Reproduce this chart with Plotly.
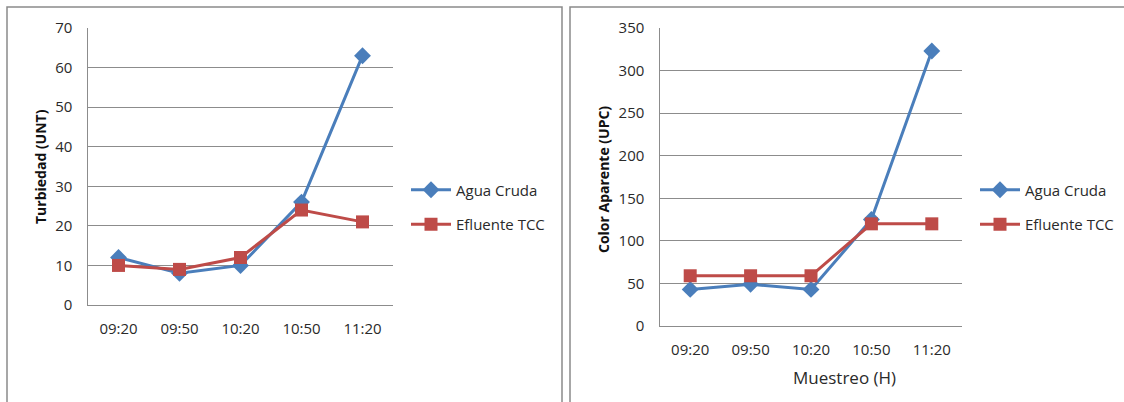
import plotly.graph_objects as go

categories = ["09:20", "09:50", "10:20", "10:50", "11:20"]
turb_agua = [12, 8, 10, 26, 63]
turb_eflu = [10, 9, 12, 24, 21]
color_agua = [43, 49, 43, 125, 323]
color_eflu = [59, 59, 59, 120, 120]
series_names = ["Agua Cruda", "Efluente TCC"]

W, H = 1124, 402
FONT = "Open Sans"
BLUE = "#4A7EBB"
RED = "#BE4B48"
GRID = "#8C8C8C"
TXT = "#2a2a2a"

def px(x):
    return x / W

def py(y):
    return 1 - y / H

fig = go.Figure()

def add_pair(agua, eflu, xa, ya, legend):
    fig.add_trace(go.Scatter(
        x=categories, y=agua, name=series_names[0], mode="lines+markers",
        line=dict(color=BLUE, width=3), marker=dict(symbol="diamond", size=13, color=BLUE),
        xaxis=xa, yaxis=ya, legend=legend, legendgroup=legend + "a"))
    fig.add_trace(go.Scatter(
        x=categories, y=eflu, name=series_names[1], mode="lines+markers",
        line=dict(color=RED, width=3), marker=dict(symbol="square", size=13, color=RED),
        xaxis=xa, yaxis=ya, legend=legend, legendgroup=legend + "b"))

add_pair(turb_agua, turb_eflu, "x", "y", "legend")
add_pair(color_agua, color_eflu, "x2", "y2", "legend2")

axis_common = dict(showline=True, linecolor=GRID, linewidth=1, ticks="", automargin=False,
                   tickfont=dict(family=FONT, size=15, color=TXT))

fig.update_layout(
    template="none",
    width=W, height=H, margin=dict(l=0, r=0, t=0, b=0, pad=0),
    paper_bgcolor="white", plot_bgcolor="white", showlegend=True,
    xaxis=dict(domain=[px(88), px(393)], anchor="y", type="category",
               range=[-0.5, 4.5], showgrid=False, ticklabelstandoff=10, **axis_common),
    yaxis=dict(domain=[py(305), py(28)], anchor="x", range=[0, 70], dtick=10,
               showgrid=True, gridcolor=GRID, gridwidth=1, zeroline=False,
               ticksuffix="   ", **axis_common),
    xaxis2=dict(domain=[px(660), px(962)], anchor="y2", type="category",
                range=[-0.5, 4.5], showgrid=False, ticklabelstandoff=10, **axis_common),
    yaxis2=dict(domain=[py(326), py(28)], anchor="x2", range=[0, 350], dtick=50,
                showgrid=True, gridcolor=GRID, gridwidth=1, zeroline=False,
                ticksuffix="   ", **axis_common),
    legend=dict(x=px(406), y=py(207), xanchor="left", yanchor="middle",
                font=dict(family=FONT, size=15, color=TXT), tracegroupgap=12,
                bgcolor="rgba(0,0,0,0)", itemwidth=40),
    legend2=dict(x=px(975), y=py(207), xanchor="left", yanchor="middle",
                 font=dict(family=FONT, size=15, color=TXT), tracegroupgap=12,
                 bgcolor="rgba(0,0,0,0)", itemwidth=40),
)

fig.add_annotation(x=px(40), y=py(167), xref="paper", yref="paper", text="<b>Turbiedad (UNT)</b>",
                   xanchor="center", yanchor="middle",
                   textangle=-90, showarrow=False, font=dict(family=FONT, size=14, color="#111"))
fig.add_annotation(x=px(604), y=py(180), xref="paper", yref="paper", text="<b>Color Aparente (UPC)</b>",
                   xanchor="center", yanchor="middle",
                   textangle=-90, showarrow=False, font=dict(family=FONT, size=14, color="#111"))
fig.add_annotation(x=px(844), y=py(377), xref="paper", yref="paper", text="Muestreo (H)",
                   xanchor="center", yanchor="middle",
                   showarrow=False, font=dict(family=FONT, size=17, color=TXT))

fig.add_shape(type="rect", xref="paper", yref="paper", x0=px(7), x1=px(562), y0=-0.2, y1=py(7),
              line=dict(color="#8A8A8A", width=1.5), fillcolor="rgba(0,0,0,0)", layer="below")
fig.add_shape(type="rect", xref="paper", yref="paper", x0=px(570), x1=1.2, y0=-0.2, y1=py(7),
              line=dict(color="#8A8A8A", width=1.5), fillcolor="rgba(0,0,0,0)", layer="below")

fig.write_html("out.html", config={"displayModeBar": False},
               post_script="document.body.style.margin='0';document.body.style.overflow='hidden';")
